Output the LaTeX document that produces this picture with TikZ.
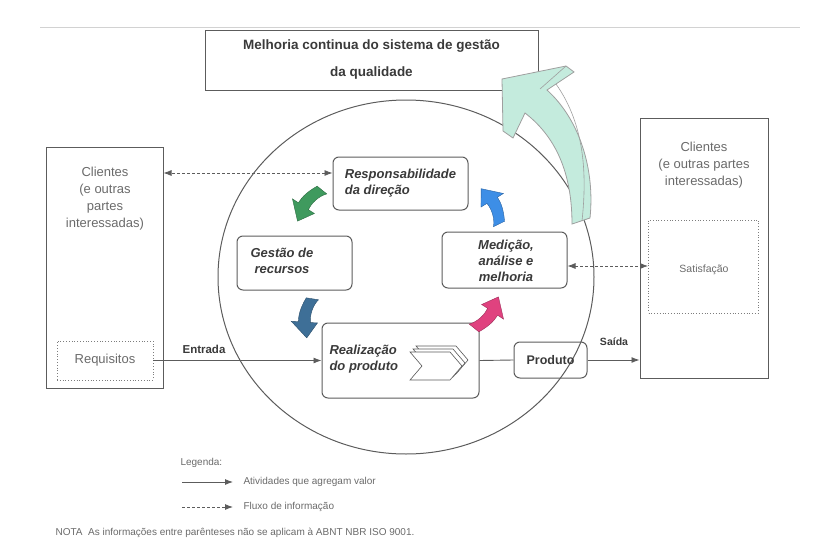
\documentclass[tikz,border=0pt]{standalone}
\usepackage{fontspec}
\setmainfont{Liberation Sans}
\usetikzlibrary{arrows.meta, positioning}

\definecolor{boxline}{HTML}{5C5C5C}
\definecolor{txt}{HTML}{3A3A3A}
\definecolor{softtxt}{HTML}{6A6A6A}
\definecolor{mint}{HTML}{C4EBDD}
\definecolor{arrgreen}{HTML}{3F9A5E}
\definecolor{arrnavy}{HTML}{3E6F97}
\definecolor{arrpink}{HTML}{E0427F}
\definecolor{arrblue}{HTML}{3D8EE6}

\tikzset{
  box/.style={draw=boxline, line width=1pt, inner sep=0pt},
  procbox/.style={box, rounded corners=6pt},
  dotbox/.style={draw=boxline!80, line width=0.8pt, dotted, inner sep=0pt},
  proctext/.style={font=\fontsize{13}{16}\selectfont\bfseries\itshape, text=txt},
  clienttext/.style={font=\fontsize{13}{17}\selectfont, text=softtxt, align=center},
  small/.style={font=\fontsize{10}{12}\selectfont, text=softtxt},
  flow/.style={-{Latex[length=8pt, width=6pt]}, line width=0.9pt, draw=boxline},
  info/.style={{Latex[length=8pt, width=6pt]}-{Latex[length=8pt, width=6pt]}, line width=0.8pt, draw=boxline, dash pattern=on 3pt off 2pt},
  pics/cyclearrow/.style={code={
    \filldraw[fill=#1, draw=#1!70!black, line width=0.4pt]
      (3,-20) .. controls (-4,-10) and (-6,-4) .. (-7,3) -- (-14,2) -- (0,20)
      -- (12,6) -- (5,5) .. controls (5,-3) and (9,-12) .. (15,-17) -- cycle;
  }}
}

\begin{document}
\begin{tikzpicture}[x=1pt, y=-1pt]
\useasboundingbox (0,0) rectangle (823,552);

% top rule and title box
\draw[gray!35, line width=0.8pt] (40,27) -- (800,27);
\node[box, minimum width=333pt, minimum height=60pt] (improve) at (371.5,60) {};
\node[font=\fontsize{13.5}{27}\selectfont\bfseries, text=txt, align=center] (improvetext) at (371.5,60)
  {Melhoria continua do sistema de gestão\\da qualidade};

% the cycle
\draw[boxline, line width=1pt] (406,277) ellipse [x radius=188, y radius=177];

\node[procbox, minimum width=135pt, minimum height=53pt] (resp) at (400.5,183.5) {};
\node[proctext, align=left] (resptext) at (resp) {Responsabilidade\\da direção};
\node[procbox, minimum width=115pt, minimum height=54pt] (gest) at (294.5,263) {};
\node[proctext, align=center] (gesttext) at (282,261) {Gestão de\\recursos};
\node[procbox, minimum width=125pt, minimum height=56pt] (med) at (504.5,260) {};
\node[proctext, align=center] (medtext) at (506,261) {Medição,\\análise e\\melhoria};
\node[procbox, minimum width=157pt, minimum height=75pt] (real) at (400.5,360.5) {};
\node[proctext, align=left, anchor=west] (realtext) at (326,359) {Realização\\do produto};
\node[procbox, minimum width=73pt, minimum height=36pt] (prod) at (550.5,360) {};
\node[font=\fontsize{12.5}{15}\selectfont\bfseries, text=txt] (prodtext) at (prod) {Produto};

% chevrons in the realization box
\foreach \d in {6,3,0}
  \filldraw[fill=white, draw=boxline, line width=0.6pt, shift={(410+\d,352-\d)}]
    (0,0) -- (40,0) -- (52,14) -- (40,28) -- (0,28) -- (12,14) -- cycle;

% cycle arrows
\pic[rotate=-25] at (306,203) {cyclearrow=arrgreen};
\pic[rotate=5] at (305,318) {cyclearrow=arrnavy};
\pic[rotate=155] at (490,315) {cyclearrow=arrpink};
\pic[rotate=-140] at (494,204) {cyclearrow=arrblue};

% big improvement arrow
\filldraw[fill=mint, draw=gray!75, line width=0.8pt]
  (502,79) -- (566,66) -- (574,72) -- (547,90)
  .. controls (580,120) and (595,170) .. (590,218) -- (572,224)
  .. controls (572,180) and (560,140) .. (525,113) -- (513,138) -- (503,131) -- cycle;
\draw[gray!75, line width=0.6pt] (566,66) -- (540,89);
\draw[gray!75, line width=0.6pt] (556,84) .. controls (585,125) and (587,175) .. (582,221);

% customers, left
\node[box, minimum width=117pt, minimum height=241pt] (clientsL) at (104.5,267.5) {};
\node[clienttext] (clientsLtext) at (105,199) {Clientes\\(e outras\\partes\\interessadas)};
\node[dotbox, minimum width=96pt, minimum height=39pt] (req) at (105,360.5) {};
\node[font=\fontsize{13}{16}\selectfont, text=softtxt] (reqtext) at (req) {Requisitos};

% customers, right
\node[box, minimum width=128pt, minimum height=260pt] (clientsR) at (704,248) {};
\node[clienttext] (clientsRtext) at (704,165) {Clientes\\(e outras partes\\interessadas)};
\node[dotbox, minimum width=110pt, minimum height=93pt] (satis) at (703.5,266.5) {};
\node[font=\fontsize{10.5}{12}\selectfont, text=softtxt] (satistext) at (704,270) {Satisfação};

% value flow
\draw[flow] (req.east) -- (real.west);
\node[font=\fontsize{11.5}{14}\selectfont\bfseries, text=txt] (inlabel) at (204,349) {Entrada};
\draw[boxline, line width=0.9pt] (real.east) -- (prod.west);
\draw[flow] (prod.east) -- (prod.east -| clientsR.west);
\node[font=\fontsize{10.5}{13}\selectfont\bfseries, text=txt] (outlabel) at (614,342) {Saída};

% information flow
\coordinate (respin) at ([yshift=10.5pt]resp.west);
\draw[info] (respin) -- (respin -| clientsL.east);
\coordinate (medout) at ([yshift=-6pt]med.east);
\draw[info] (medout) -- (medout -| satis.west);

% legend
\node[small, anchor=west] (legend) at (177,463) {Legenda:};
\node[small, anchor=west] (legact) at (240,482) {Atividades que agregam valor};
\node[small, anchor=west] (leginfo) at (240,507) {Fluxo de informação};
\coordinate (legacta) at (182,482);
\coordinate (leginfoa) at (182,507);
\draw[flow, shorten >=7pt] (legacta |- legact.west) -- (legact.west);
\draw[flow, shorten >=7pt, dash pattern=on 3pt off 2pt] (leginfoa |- leginfo.west) -- (leginfo.west);
\node[small, anchor=west] (note) at (52,533)
  {NOTA\ \ As informações entre parênteses não se aplicam à ABNT NBR ISO 9001.};
\end{tikzpicture}
\end{document}
